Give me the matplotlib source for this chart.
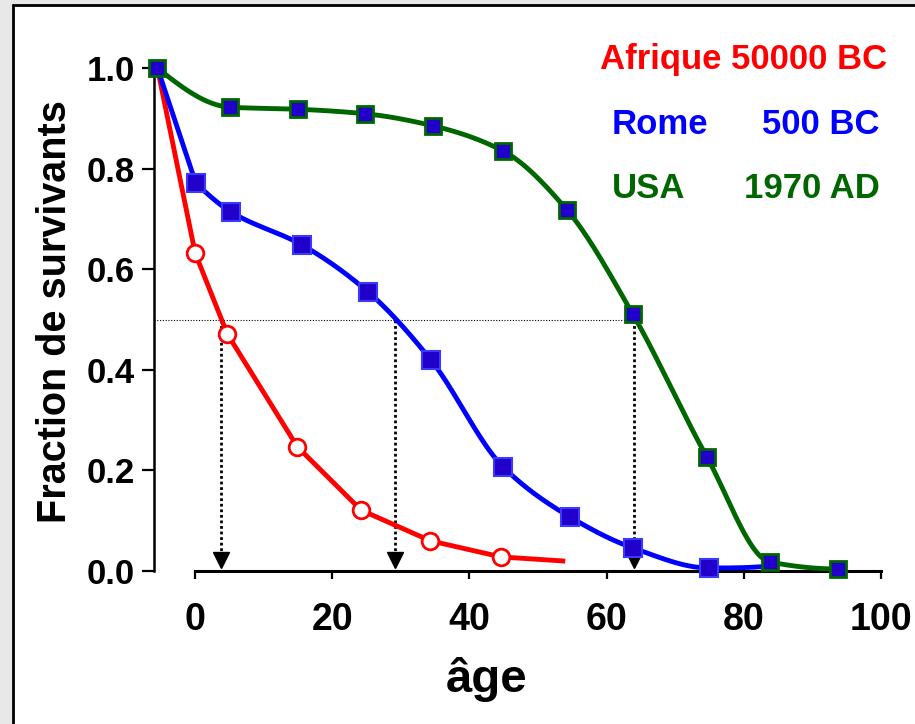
import numpy as np
import matplotlib.pyplot as plt
from matplotlib.patches import Rectangle

plt.rcParams['font.family'] = ['Liberation Sans', 'DejaVu Sans']
plt.rcParams['font.weight'] = 'bold'

# valeurs
age_afrique = [-5.5, 0, 4.7, 14.9, 24.2, 34.3, 44.6, 53.6]
surv_afrique = [1.0, 0.632, 0.471, 0.247, 0.121, 0.060, 0.028, 0.020]

age_rome = [-5.5, 0.1, 5.2, 15.6, 25.2, 34.4, 44.9, 54.7, 63.8, 74.9, 83.8]
surv_rome = [1.0, 0.771, 0.714, 0.648, 0.555, 0.419, 0.207, 0.107, 0.046, 0.006, 0.010]

age_usa = [-5.5, 5.1, 15.0, 24.8, 34.7, 44.9, 54.2, 63.8, 74.6, 83.8, 93.7]
surv_usa = [1.0, 0.922, 0.918, 0.909, 0.885, 0.835, 0.718, 0.511, 0.227, 0.018, 0.004]

# ages a 50% de survivants (fleches)
age_median = [3.8, 29.1, 64.0]

xticks = [0, 20, 40, 60, 80, 100]
yticks = [0.0, 0.2, 0.4, 0.6, 0.8, 1.0]


def end_slope(h0, h1, d0, d1):
    m = ((2 * h0 + h1) * d0 - h0 * d1) / (h0 + h1)
    if np.sign(m) != np.sign(d0):
        m = 0.0
    elif np.sign(d0) != np.sign(d1) and abs(m) > abs(3 * d0):
        m = 3 * d0
    return m


def pchip(x, y, n=300):
    # courbe lisse monotone a travers les points
    x = np.asarray(x, float)
    y = np.asarray(y, float)
    h = np.diff(x)
    d = np.diff(y) / h
    m = np.zeros(len(x))
    m[0] = end_slope(h[0], h[1], d[0], d[1])
    m[-1] = end_slope(h[-1], h[-2], d[-1], d[-2])
    for k in range(1, len(x) - 1):
        if d[k - 1] * d[k] > 0:
            w1 = 2 * h[k] + h[k - 1]
            w2 = h[k] + 2 * h[k - 1]
            m[k] = (w1 + w2) / (w1 / d[k - 1] + w2 / d[k])
    xs = np.linspace(x[0], x[-1], n)
    idx = np.clip(np.searchsorted(x, xs) - 1, 0, len(x) - 2)
    t = (xs - x[idx]) / h[idx]
    h00 = 2 * t**3 - 3 * t**2 + 1
    h10 = t**3 - 2 * t**2 + t
    h01 = -2 * t**3 + 3 * t**2
    h11 = t**3 - t**2
    ys = h00 * y[idx] + h10 * h[idx] * m[idx] + h01 * y[idx + 1] + h11 * h[idx] * m[idx + 1]
    return xs, ys


W, H = 915, 724
fig = plt.figure(figsize=(W / 100, H / 100), dpi=100, facecolor='#e8e8e8')
fig.patches.append(Rectangle((13 / W, -0.02), 1.05, (H - 5) / H + 0.02,
                             transform=fig.transFigure, facecolor='white',
                             edgecolor='black', linewidth=2, zorder=-5))

ax = fig.add_axes([154 / W, (H - 571) / H, (881 - 154) / W, (571 - 68) / H])
ax.set_facecolor('none')
ax.set_xlim(-6, 100)
ax.set_ylim(0, 1.0)

# lignes pointillees a 50%
ax.plot([-6, age_median[-1]], [0.5, 0.5], color='black', lw=0.8,
        linestyle=(0, (1, 1.5)), zorder=1)
for a in age_median:
    ax.plot([a, a], [0.5, 0.035], color='black', lw=2, linestyle=(0, (1, 1)), zorder=1)
    ax.plot(a, 0.022, marker='v', color='black', markersize=11, zorder=1, clip_on=False)

# Afrique : segments droits
ax.plot(age_afrique, surv_afrique, color='#ff0000', lw=3.5, zorder=2, clip_on=False)
ax.plot(age_afrique[1:-1], surv_afrique[1:-1], 'o', color='#ff0000', mfc='white',
        mec='#ff0000', mew=2, markersize=12, zorder=3, clip_on=False)

# Rome : premier segment droit puis lisse
xs, ys = pchip(age_rome[1:], surv_rome[1:])
ax.plot(np.r_[age_rome[0], xs], np.r_[surv_rome[0], ys], color='#0000ff', lw=3.5,
        zorder=4, clip_on=False)
ax.plot(age_rome[1:-1], surv_rome[1:-1], 's', mfc='#2200cc', mec='#3a3aff', mew=1.5,
        markersize=12.5, zorder=5, clip_on=False)

xs, ys = pchip(age_usa, surv_usa)
ax.plot(xs, ys, color='#006600', lw=3.5, zorder=6, clip_on=False)
ax.plot(age_usa, surv_usa, 's', mfc='#2200cc', mec='#006600', mew=2,
        markersize=12, zorder=7, clip_on=False)

for s in ['top', 'right']:
    ax.spines[s].set_visible(False)
ax.spines['left'].set_linewidth(1.8)
ax.spines['bottom'].set_linewidth(2.2)
ax.spines['bottom'].set_bounds(0, 100)

ax.set_xticks(xticks)
ax.set_xticklabels([str(v) for v in xticks], fontsize=27, fontweight='bold')
ax.set_yticks(yticks)
ax.set_yticklabels(['%.1f' % v for v in yticks], fontsize=25, fontweight='bold')
ax.tick_params(axis='x', length=5.5, width=1.6, pad=17)
ax.tick_params(axis='y', length=8.5, width=1.6, pad=5)

fig.text(55 / W, 1 - 312 / H, 'Fraction de survivants', rotation=90, fontsize=28.5,
         fontweight='bold', ha='center', va='center')
fig.text(487 / W, 1 - 680 / H, 'âge', fontsize=34, fontweight='bold',
         ha='center', va='center')

fig.text(600 / W, 1 - 60 / H, 'Afrique 50000 BC', color='#ff0000', fontsize=25,
         fontweight='bold', ha='left', va='center')
fig.text(612 / W, 1 - 125 / H, 'Rome', color='#0000ff', fontsize=25,
         fontweight='bold', ha='left', va='center')
fig.text(880 / W, 1 - 125 / H, '500 BC', color='#0000ff', fontsize=25,
         fontweight='bold', ha='right', va='center')
fig.text(612 / W, 1 - 188 / H, 'USA', color='#006600', fontsize=25,
         fontweight='bold', ha='left', va='center')
fig.text(880 / W, 1 - 188 / H, '1970 AD', color='#006600', fontsize=25,
         fontweight='bold', ha='right', va='center')

fig.savefig('out.png', dpi=100, facecolor=fig.get_facecolor())
